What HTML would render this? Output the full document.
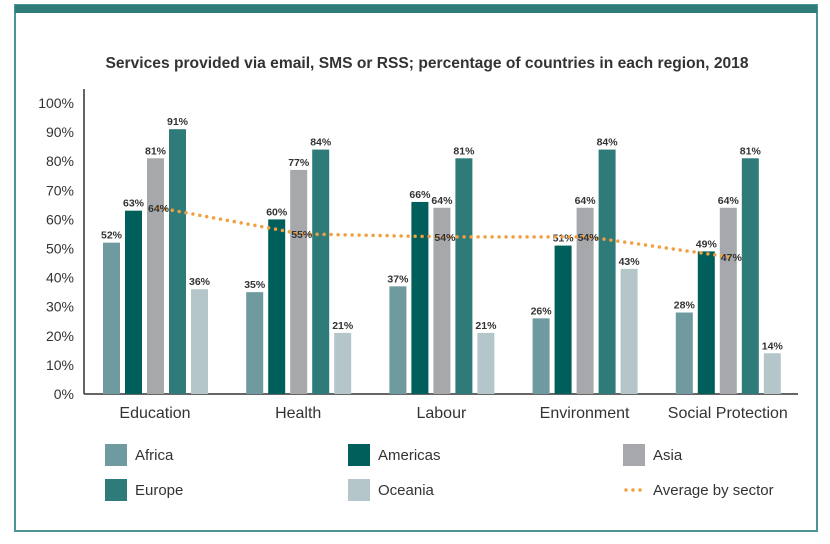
<!DOCTYPE html>
<html><head><meta charset="utf-8"><style>
body{margin:0;background:#fff;}
svg{display:block;font-family:"Liberation Sans",sans-serif;}
</style></head><body>
<svg id="chart" width="830" height="544" viewBox="0 0 830 544">
<rect x="15" y="5" width="802" height="526" fill="#fff" stroke="#4f9494" stroke-width="2"/>
<rect x="15" y="5" width="802" height="8" fill="#2e7b7a"/>
<text x="427" y="68" text-anchor="middle" font-size="15.6" font-weight="bold" fill="#333">Services provided via email, SMS or RSS; percentage of countries in each region, 2018</text>
<g id="yaxis"></g><g id="bars"></g><g id="avg"></g><g id="legend"></g>
</svg>
<script>
const categories=["Education","Health","Labour","Environment","Social Protection"];
const seriesNames=["Africa","Americas","Asia","Europe","Oceania"];
const africa=[52,35,37,26,28];
const americas=[63,60,66,51,49];
const asia=[81,77,64,64,64];
const europe=[91,84,81,84,81];
const oceania=[36,21,21,43,14];
const average=[64,55,54,54,47];
const yTicks=[0,10,20,30,40,50,60,70,80,90,100];
const colors=["#6f9a9f","#005f5a","#a7a8ab","#2e7b7a","#b4c6ca"];
const series=[africa,americas,asia,europe,oceania];
const NS="http://www.w3.org/2000/svg";
function el(t,a,p){const e=document.createElementNS(NS,t);for(const k in a)e.setAttribute(k,a[k]);p.appendChild(e);return e;}
const y=v=>394-v*2.91;
const groupX=i=>103+i*143.2;
const barX=(i,s)=>groupX(i)+s*22;
const bw=17;
const ya=document.getElementById('yaxis');
yTicks.forEach(t=>{const tx=el('text',{x:74,y:y(t)+5,'text-anchor':'end','font-size':14,fill:'#333'},ya);tx.textContent=t+'%';

});
const ax=el('line',{x1:84,y1:89,x2:84,y2:394,stroke:'#333','stroke-width':1.5},ya);


const xa=el('line',{x1:84,y1:394,x2:798,y2:394,stroke:'#333','stroke-width':1.5},ya);


const bg=document.getElementById('bars');
categories.forEach((c,i)=>{
 series.forEach((arr,s)=>{
  const v=arr[i];
  const r=el('rect',{x:barX(i,s),y:y(v),width:bw,height:394-y(v),fill:colors[s]},bg);
  
  
  const t=el('text',{x:barX(i,s)+bw/2,y:y(v)-4,'text-anchor':'middle','font-size':10.5,'font-weight':'bold',fill:'#333'},bg);
  t.textContent=v+'%';
  
  
 });
 const ct=el('text',{x:groupX(i)+52,y:418,'text-anchor':'middle','font-size':16,fill:'#333'},bg);
 ct.textContent=c;
 
 
});
const ag=document.getElementById('avg');
const pts=average.map((v,i)=>(barX(i,2)+bw/2+3)+','+y(v)).join(' ');
const pl=el('polyline',{points:pts,fill:'none',stroke:'#f0a040','stroke-width':3.5,'stroke-dasharray':'0 7','stroke-linecap':'round'},ag);


average.forEach((v,i)=>{const t=el('text',{x:barX(i,2)+bw/2+3,y:y(v)+4,'text-anchor':'middle','font-size':10.5,'font-weight':'bold',fill:'#333'},ag);t.textContent=v+'%';

});
const lg=document.getElementById('legend');
const legendItems=[["Africa",0,105,455],["Americas",1,348,455],["Asia",2,623,455],["Europe",3,105,490],["Oceania",4,348,490]];
legendItems.forEach(([n,s,lx,ly])=>{
 const r=el('rect',{x:lx,y:ly-11,width:22,height:22,fill:colors[s]},lg);
 
 
 const t=el('text',{x:lx+30,y:ly+5,'font-size':15,fill:'#333'},lg);t.textContent=n;
 
 
});
const ll=el('line',{x1:626,y1:490,x2:645,y2:490,stroke:'#f0a040','stroke-width':3.5,'stroke-dasharray':'0 7','stroke-linecap':'round'},lg);


const lt=el('text',{x:653,y:495,'font-size':15,fill:'#333'},lg);lt.textContent='Average by sector';


</script>
</body></html>
